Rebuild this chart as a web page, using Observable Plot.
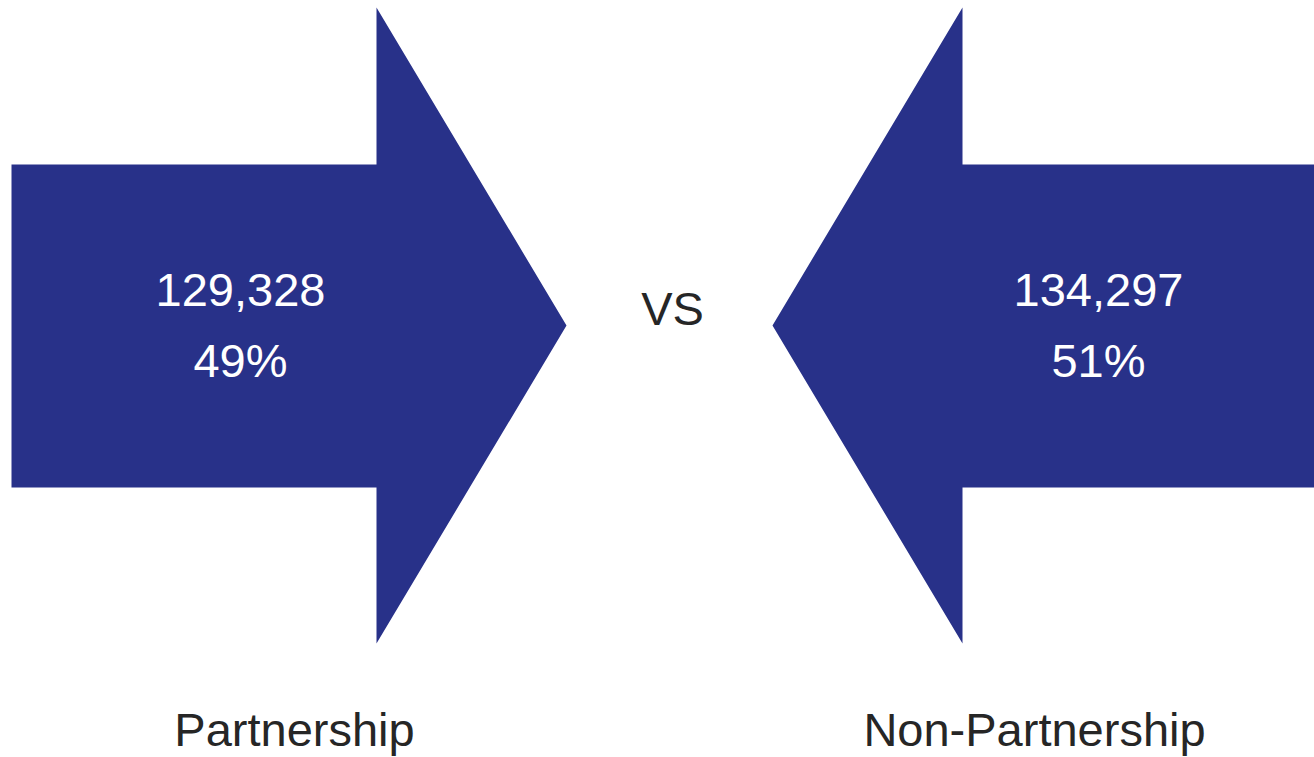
<!DOCTYPE html>
<html>
<head>
<meta charset="utf-8">
<script src="https://cdn.jsdelivr.net/npm/d3@7"></script>
<script src="https://cdn.jsdelivr.net/npm/@observablehq/plot@0.6"></script>
<style>
  html, body { margin: 0; padding: 0; background: #ffffff; overflow: hidden; }
  #chart svg { display: block; }
</style>
</head>
<body>
<div id="chart"></div>
<script>
// ---- Data ----
const categories = ["Partnership", "Non-Partnership"];
const counts = [129328, 134297];
const directions = ["right", "left"];   // arrow pointing direction
const middleLabel = "VS";

// ---- Layout (pixel space of a 1314 x 757 canvas) ----
const W = 1314, H = 757;
const color = "#283189";
const arrowLayout = [
  // shaft from x0 to x1, head base at x1 to tip xt
  {x0: 11, x1: 376, xt: 566, labelX: 240, nameX: 294},
  {x0: 1314, x1: 962, xt: 772, labelX: 1098, nameX: 1034}
];
const shaftTop = 164, shaftBottom = 487, headTop = 7, headBottom = 643, tipY = 325;

const total = d3.sum(counts);
const polys = [];
categories.forEach((c, i) => {
  const L = arrowLayout[i];
  const pts = [
    [L.x0, shaftTop], [L.x1, shaftTop], [L.x1, headTop], [L.xt, tipY],
    [L.x1, headBottom], [L.x1, shaftBottom], [L.x0, shaftBottom]
  ];
  pts.forEach(([x, y], k) => polys.push({cat: c, x, y, k}));
});

const labels = categories.map((c, i) => ({
  cat: c,
  countText: d3.format(",")(counts[i]),
  pctText: Math.round(counts[i] / total * 100) + "%",
  x: arrowLayout[i].labelX,
  nameX: arrowLayout[i].nameX
}));

const font = "'Liberation Sans', Arial, sans-serif";

const chart = Plot.plot({
  width: W,
  height: H,
  margin: 0,
  style: {fontFamily: font, background: "#ffffff"},
  x: {domain: [0, W], range: [0, W], axis: null},
  y: {domain: [0, H], range: [0, H], axis: null},
  marks: [
    Plot.line(polys, {x: "x", y: "y", z: "cat", fill: color, stroke: "none", curve: "linear-closed"}),
    Plot.text(labels, {x: "x", y: () => 305, text: "countText", fill: "#ffffff", fontSize: 47, lineAnchor: "bottom", textAnchor: "middle"}),
    Plot.text(labels, {x: "x", y: () => 376, text: "pctText", fill: "#ffffff", fontSize: 47, lineAnchor: "bottom", textAnchor: "middle"}),
    Plot.text([middleLabel], {x: () => 672, y: () => 324, text: d => d, fill: "#262626", fontSize: 47, lineAnchor: "bottom", textAnchor: "middle"}),
    Plot.text(labels, {x: "nameX", y: () => 745, text: "cat", fill: "#262626", fontSize: 47, lineAnchor: "bottom", textAnchor: "middle"})
  ]
});
document.getElementById("chart").appendChild(chart);
</script>
</body>
</html>
